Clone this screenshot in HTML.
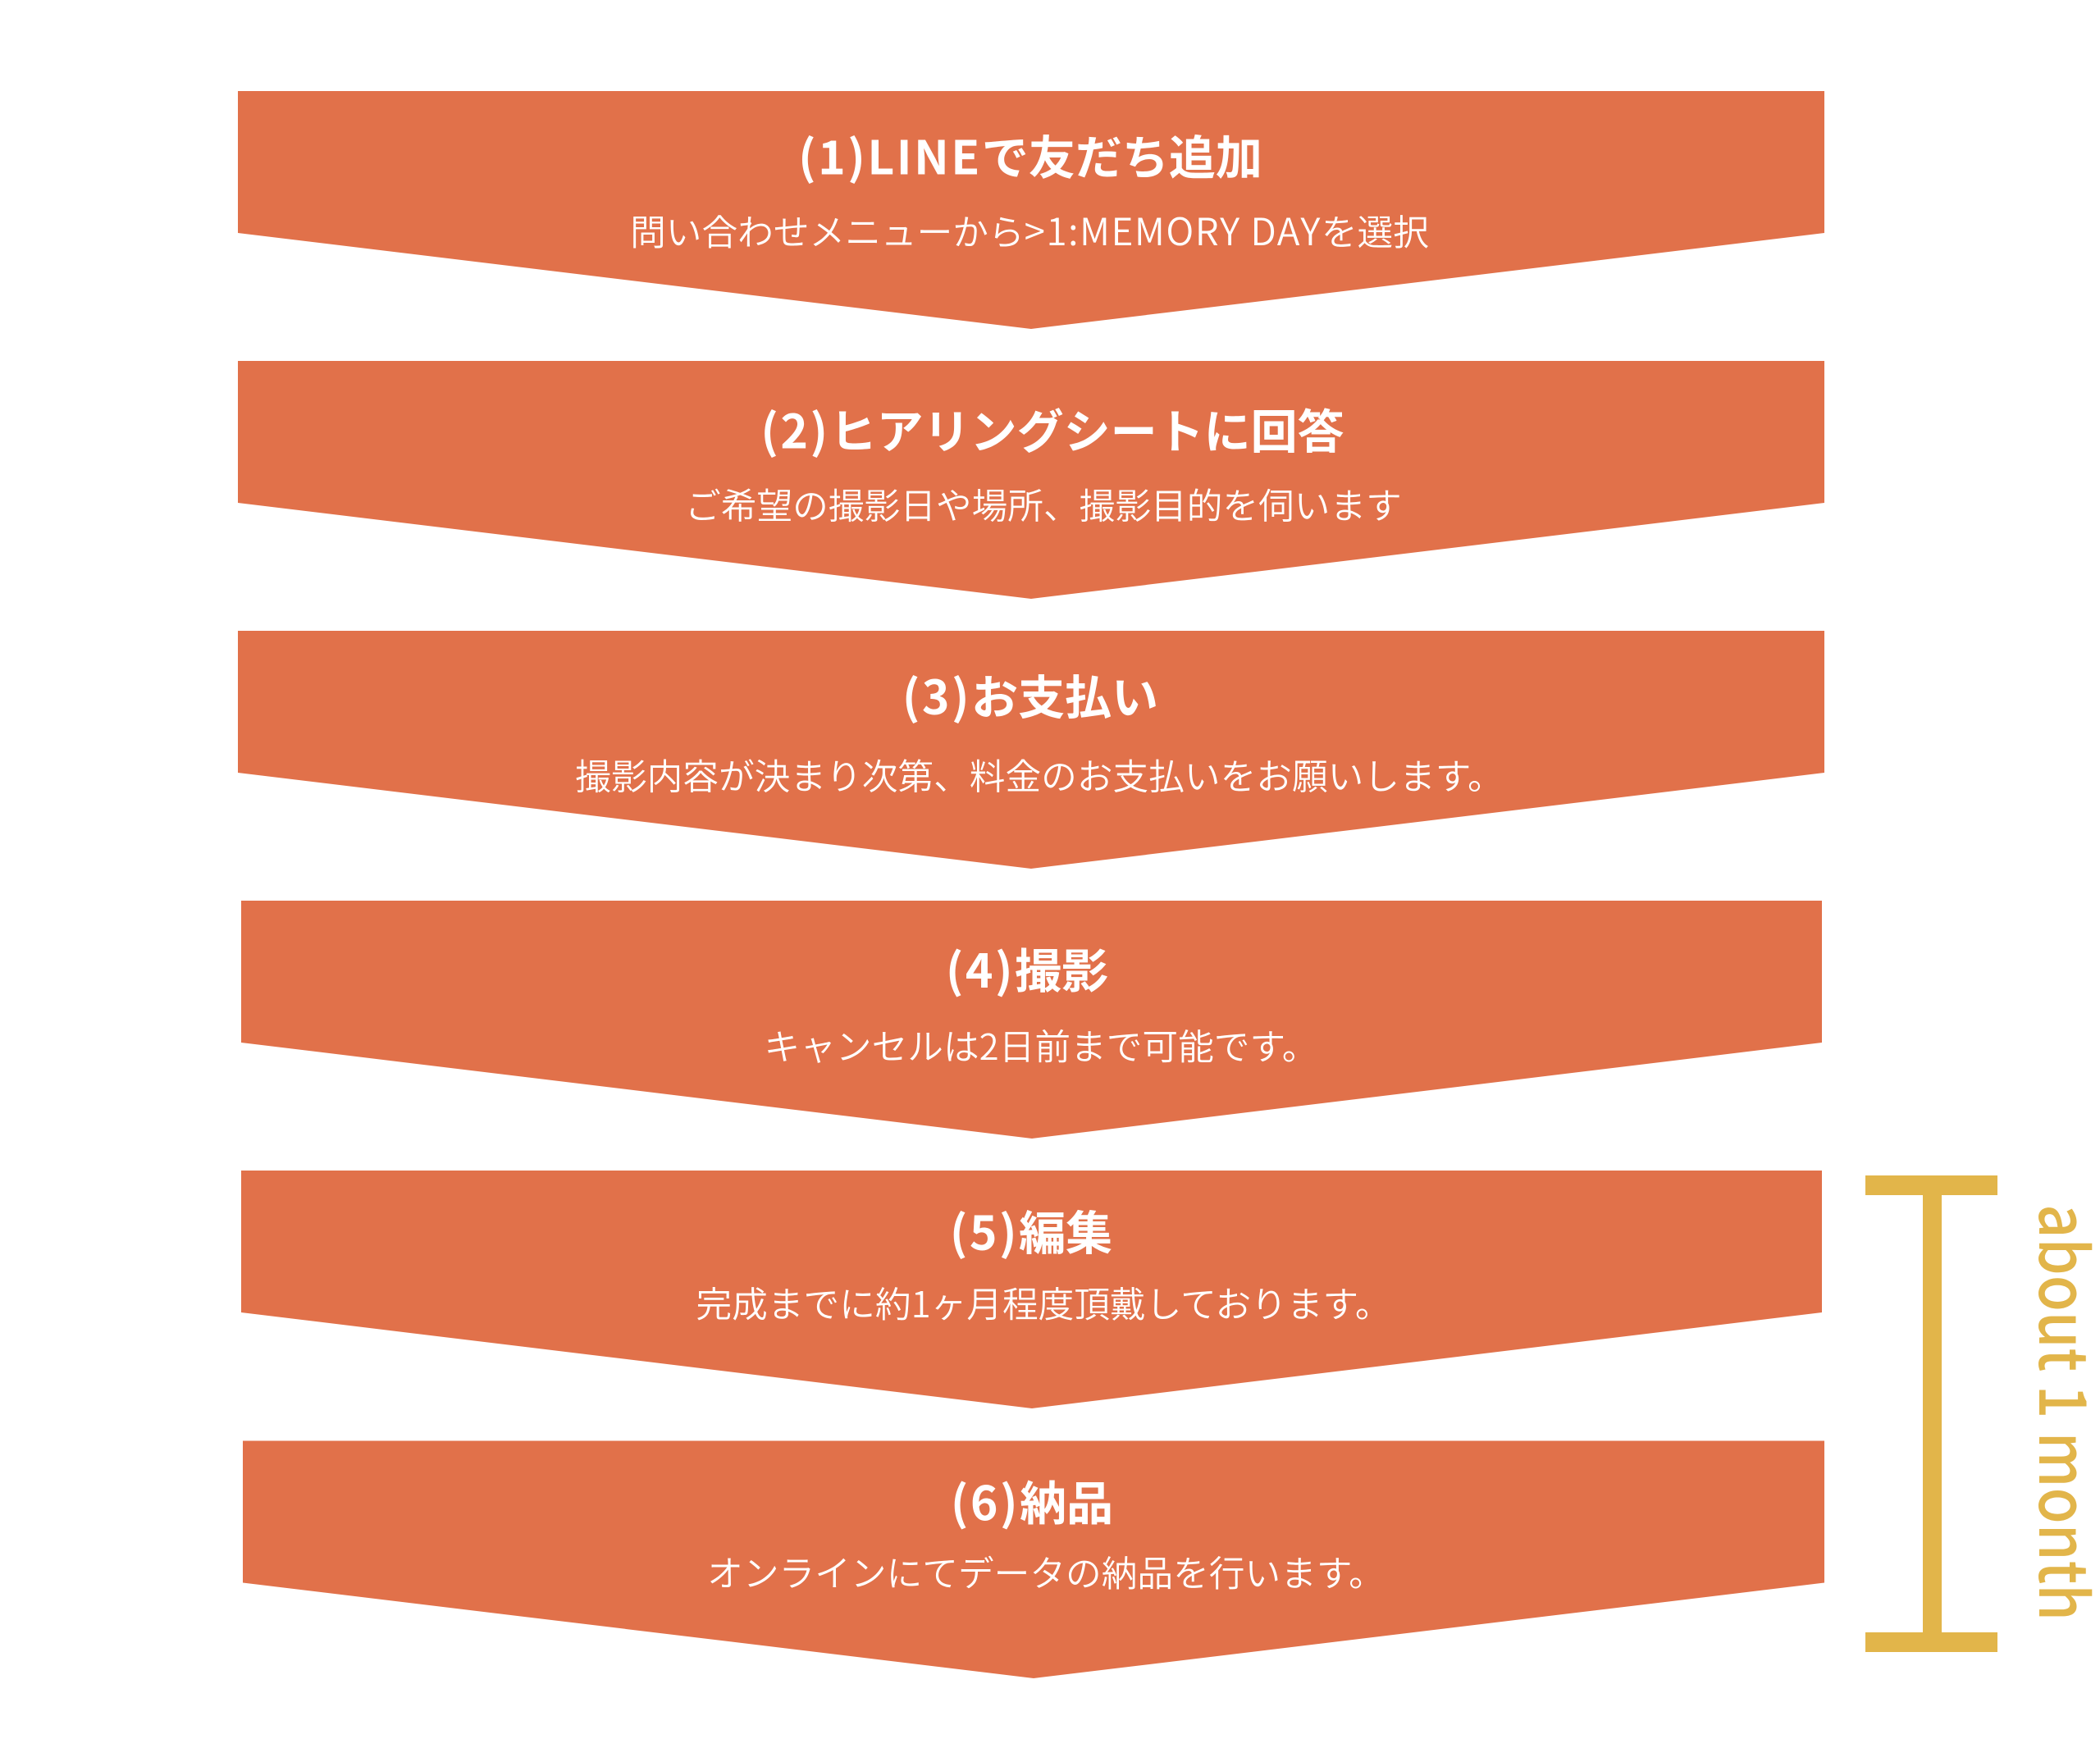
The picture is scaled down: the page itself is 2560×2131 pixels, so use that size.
<!DOCTYPE html>
<html>
<head>
<meta charset="utf-8">
<style>
  html, body { margin: 0; padding: 0; background: #ffffff; }
  body { width: 2560px; height: 2131px; overflow: hidden; }
  svg { display: block; }
  .t { font-family: "Noto Sans CJK JP", "Liberation Sans", sans-serif; fill: #ffffff; font-weight: 700; font-size: 57px; }
  .s { font-family: "Noto Sans CJK JP", "Liberation Sans", sans-serif; fill: #ffffff; font-weight: 350; font-size: 43.7px; }
  .g { font-family: "Noto Sans CJK JP", "Liberation Sans", sans-serif; fill: #E2B54A; font-weight: 500; font-size: 72px; }
  .ls { letter-spacing: 2.5px; }
  .lat { font-size: 46px; letter-spacing: 1.5px; }
</style>
</head>
<body>
<svg width="2560" height="2131" viewBox="0 0 2560 2131" xmlns="http://www.w3.org/2000/svg">
  <rect x="0" y="0" width="2560" height="2131" fill="#ffffff"/>
  <g fill="#E1714A">
    <polygon points="290,111 2224,111 2224,284 1257,401 290,284"/>
    <polygon points="290,440 2224,440 2224,613 1257,730 290,613"/>
    <polygon points="290,769 2224,769 2224,942 1257,1059 290,942"/>
    <polygon points="294,1098 2221,1098 2221,1271 1258,1388 294,1271"/>
    <polygon points="294,1427 2221,1427 2221,1600 1258,1717 294,1600"/>
    <polygon points="296,1756.5 2224,1756.5 2224,1929.5 1260,2046 296,1929.5"/>
  </g>

  <text class="t" x="1256" y="212.7" text-anchor="middle"><tspan class="ls">(1)LINE</tspan>で友だち追加</text>
  <text class="s" x="1255" y="298.9" text-anchor="middle">問い合わせメニューから<tspan class="lat">&gt;1:MEMORY DAY</tspan>を選択</text>

  <text class="t" x="1283" y="546.7" text-anchor="middle"><tspan class="ls">(2)</tspan>ヒアリングシートに回答</text>
  <text class="s" x="1272" y="632.6" text-anchor="middle">ご希望の撮影日や場所、撮影目的を伺います</text>

  <text class="t" x="1256" y="870.7" text-anchor="middle"><tspan class="ls">(3)</tspan>お支払い</text>
  <text class="s" x="1267" y="962.4" text-anchor="middle">撮影内容が決まり次第、料金のお支払いをお願いします。</text>

  <text class="t" x="1252" y="1204.2" text-anchor="middle"><tspan class="ls">(4)</tspan>撮影</text>
  <text class="s" x="1269" y="1291.9" text-anchor="middle">キャンセルは2日前まで可能です。</text>

  <text class="t" x="1257" y="1523.5" text-anchor="middle"><tspan class="ls">(5)</tspan>編集</text>
  <text class="s" x="1272" y="1605.9" text-anchor="middle">完成までに約1ヶ月程度頂戴しております。</text>

  <text class="t" x="1258" y="1853.2" text-anchor="middle"><tspan class="ls">(6)</tspan>納品</text>
  <text class="s" x="1275" y="1933.9" text-anchor="middle">オンラインにてデータの納品を行います。</text>

  <g fill="#E2B54A">
    <rect x="2274" y="1433" width="161" height="24"/>
    <rect x="2344" y="1445" width="23" height="557"/>
    <rect x="2274" y="1990" width="161" height="24"/>
  </g>
  <text class="g" transform="translate(2486,1722) rotate(90) scale(1,1.12)" text-anchor="middle">about 1 month</text>
</svg>
</body>
</html>
